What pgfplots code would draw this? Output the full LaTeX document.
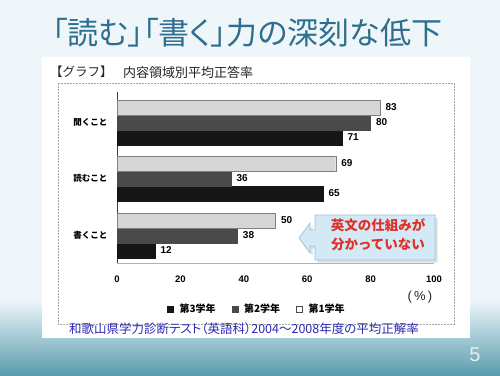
\documentclass[border=0pt]{standalone}
\usepackage{pgfplots}
\pgfplotsset{compat=1.18}
\usepackage{fontspec}
\setmainfont{Noto Sans CJK JP}
\newfontfamily\paltfont{Noto Sans CJK JP}[RawFeature=+palt]
\newfontfamily\numfont{Liberation Sans}
\usetikzlibrary{shadows}

\definecolor{titleblue}{HTML}{2E6E8E}
\definecolor{bgtop}{HTML}{EEF6FA}
\definecolor{bgbot}{HTML}{5A9DAE}
\definecolor{capblue}{HTML}{2A2AB4}
\definecolor{callfill}{HTML}{D3E9F5}
\definecolor{calldraw}{HTML}{9DC3D8}
\definecolor{callred}{HTML}{E0302A}
\definecolor{gA}{HTML}{D6D6D6}
\definecolor{gB}{HTML}{4A4A4A}
\definecolor{gC}{HTML}{151515}

\begin{document}
\begin{tikzpicture}
\begin{scope}[x=1pt,y=-1pt]
\path[use as bounding box] (0,0) rectangle (500,375);
\fill[bgtop] (0,0) rectangle (500,375);
\shade[top color=bgtop, bottom color=bgbot] (0,300) rectangle (500,375);
\fill[white] (42,57) rectangle (470,338);
\draw[gray!70, dash pattern=on 2pt off 1pt, line width=0.6pt] (58,83) rectangle (454,324);
\node[text=titleblue, font=\paltfont\fontsize{31}{31}\selectfont] at (247,33) {「読む」「書く」力の深刻な低下};
\node[anchor=west, font=\fontsize{12.5}{13}\selectfont, text=black!85, inner sep=0pt] at (50,72) {【グラフ】};
\node[anchor=west, font=\fontsize{13}{13}\selectfont, text=black!85, inner sep=0pt] at (123,72) {内容領域別平均正答率};
\node[text=capblue, font=\paltfont\fontsize{12.5}{12.5}\selectfont] at (244,329) {和歌山県学力診断テスト（英語科）2004～2008年度の平均正解率};
\node[text=white!85!bgbot, font=\numfont\fontsize{20}{20}\selectfont] at (475,355) {5};
\node[font=\numfont\fontsize{13}{13}\selectfont, text=black!85] at (420,297) {(\,\%\,)};
\path[fill=callfill, draw=calldraw, line width=0.8pt, drop shadow={opacity=0.25}]
  (315,215) -- (435,215) -- (435,260) -- (315,260) -- (315,246) -- (310,246) -- (310,253)
  -- (299,238) -- (310,223) -- (310,230) -- (315,230) -- cycle;
\node[text=callred, font=\bfseries\fontsize{13.5}{19}\selectfont, align=center] at (378,235) {英文の仕組みが\\分かっていない};
\end{scope}

\begin{axis}[
  at={(117pt,-263pt)}, anchor=south west,
  scale only axis, width=317pt, height=171pt,
  xmin=0, xmax=100, ymin=0, ymax=171,
  axis x line*=bottom, axis y line*=left,
  axis line style={-},
  x axis line style={gray!60},
  y axis line style={black!75},
  xtick={0,20,40,60,80,100},
  ytick={140.5,84.5,27.5},
  yticklabels={聞くこと,読むこと,書くこと},
  major tick length=0pt,
  /pgf/number format/assume math mode=true,
  xticklabel style={font=\numfont\bfseries\fontsize{9.5}{10}\selectfont, yshift=-9pt},
  yticklabel style={font=\bfseries\fontsize{8.5}{9}\selectfont, xshift=-6pt},
  xbar, bar width=15pt,
  point meta=x,
  nodes near coords,
  nodes near coords style={font=\numfont\bfseries\fontsize{10}{10}\selectfont, anchor=west, xshift=2pt},
  clip=false,
  legend style={at={(0.4416,-0.269)}, anchor=center, draw=none, fill=none,
    font=\bfseries\fontsize{10}{10}\selectfont,
    /tikz/every even column/.append style={column sep=14pt}},
  legend columns=3,
]
\addplot[fill=gC, draw=gC, bar shift=0pt, forget plot] coordinates {(71,125.5) (65,69.5) (12,12.5)};
\addplot[fill=gB, draw=gB, bar shift=0pt, forget plot] coordinates {(80,140.5) (36,84.5) (38,27.5)};
\addplot[fill=gA, draw=gray, bar shift=0pt, forget plot] coordinates {(83,155.5) (69,99.5) (50,42.5)};
\addlegendimage{legend image code/.code={\fill[gC] (0pt,-3pt) rectangle (6pt,3pt);}}
\addlegendentry{\hspace{4pt}第3学年}
\addlegendimage{legend image code/.code={\fill[gB] (0pt,-3pt) rectangle (6pt,3pt);}}
\addlegendentry{\hspace{4pt}第2学年}
\addlegendimage{legend image code/.code={\draw[black!70, fill=white] (0pt,-3pt) rectangle (6pt,3pt);}}
\addlegendentry{\hspace{4pt}第1学年}
\end{axis}
\end{tikzpicture}
\end{document}
